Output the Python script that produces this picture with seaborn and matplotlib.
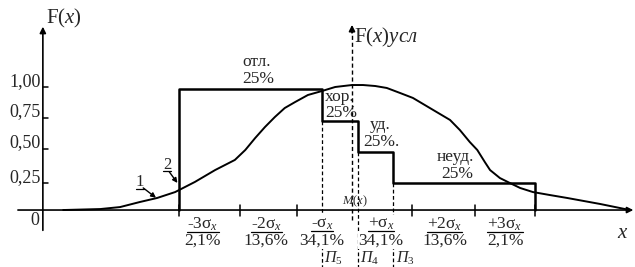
import numpy as np
import pandas as pd
import matplotlib
matplotlib.use('Agg')
import matplotlib.pyplot as plt
import seaborn as sns

sns.set_theme(style='white')
plt.rcParams['font.family'] = ['Liberation Serif', 'DejaVu Serif']
plt.rcParams['mathtext.fontset'] = 'custom'
plt.rcParams['mathtext.rm'] = 'Liberation Serif'
plt.rcParams['mathtext.it'] = 'Liberation Serif:italic'

# ---- data (x in sigma units around M(x), y in f(x) units) ----
curve_x = [-4.98, -4.34, -4.00, -3.66, -3.36, -3.05, -2.71, -2.36, -2.02, -1.84,
           -1.67, -1.50, -1.33, -1.16, -0.98, -0.76, -0.52, -0.29, 0.00, 0.19,
           0.40, 0.60, 0.83, 1.05, 1.40, 1.69, 1.86, 2.03, 2.16, 2.29,
           2.38, 2.55, 2.72, 2.90, 3.12, 3.41, 3.71, 4.28, 4.79]
curve_y = [0.000, 0.008, 0.024, 0.065, 0.098, 0.146, 0.228, 0.325, 0.407, 0.488,
           0.585, 0.675, 0.756, 0.829, 0.878, 0.935, 0.967, 1.000, 1.016, 1.016,
           1.008, 0.992, 0.951, 0.911, 0.813, 0.732, 0.650, 0.553, 0.488, 0.390,
           0.325, 0.260, 0.220, 0.179, 0.146, 0.122, 0.098, 0.049, 0.000]

step_edges = [-2.98, -0.52, 0.10, 0.71, 3.16]
step_levels = [0.98, 0.72, 0.47, 0.22]
grade_names = ['отл.', 'хор.', 'уд.', 'неуд.']
grade_pcts = ['25%', '25%', '25%.', '25%']
grade_pos_x = [-1.64, -0.22, 0.48, 1.78]
grade_pos_y = [1.20, 0.92, 0.69, 0.43]

ytick_pos = [0.22, 0.50, 0.75, 1.00]
ytick_labels = ['0,25', '0,50', '0,75', '1,00']

xtick_pos = [-2.98, -1.93, -0.95, 1.03, 2.12, 3.16]
interval_centers = [-2.57, -1.48, -0.52, 0.50, 1.60, 2.64]
interval_sigmas = ['-3σ$_x$', '-2σ$_x$', '-σ$_x$', '+σ$_x$', '+2σ$_x$', '+3σ$_x$']
interval_pcts = ['2,1%', '13,6%', '34,1%', '34,1%', '13,6%', '2,1%']

limit_names = ['$\\mathit{П_5}$', '$\\mathit{П_4}$', '$\\mathit{П_3}$']

# step outline vertices from edges/levels
step_x, step_y = [step_edges[0]], [0.0]
for i, lv in enumerate(step_levels):
    step_x += [step_edges[i], step_edges[i + 1]]
    step_y += [lv, lv]
step_x.append(step_edges[-1])
step_y.append(0.0)

fig = plt.figure(figsize=(6.35, 2.67), dpi=100)
ax = fig.add_axes([0, 0, 1, 1])
ax.set_xlim(-6.069, 4.879)
ax.set_ylim(-0.463, 1.707)
ax.axis('off')

curve = pd.DataFrame({'x': curve_x, 'y': curve_y})
sns.lineplot(data=curve, x='x', y='y', sort=False, estimator=None,
             color='black', lw=1.4, ax=ax)
steps = pd.DataFrame({'x': step_x, 'y': step_y})
sns.lineplot(data=steps, x='x', y='y', sort=False, estimator=None,
             color='black', lw=1.8, ax=ax)

# ---- axes with arrows ----
yaxis_x = -5.33
arr = dict(arrowstyle='-|>', color='black', lw=1.2, mutation_scale=9,
           shrinkA=0, shrinkB=0)
ax.annotate('', xy=(4.85, 0), xytext=(-5.76, 0), arrowprops=arr)
ax.annotate('', xy=(yaxis_x, 1.49), xytext=(yaxis_x, -0.165), arrowprops=arr)

# dashed conditional axis at M(x)
ax.plot([0, 0], [-0.08, 1.47], ls=(0, (3, 2)), color='black', lw=1.0)
ax.annotate('', xy=(0, 1.505), xytext=(0, 1.44), arrowprops=arr)

# dashed limit lines under step corners
for i, e in enumerate(step_edges[1:-1]):
    ax.plot([e, e], [step_levels[i + 1], -0.463],
            ls=(0, (3, 2)), color='black', lw=0.9)

# y ticks
for p, lab in zip(ytick_pos, ytick_labels):
    ax.plot([yaxis_x, yaxis_x + 0.09], [p, p], color='black', lw=1.1)
    ax.text(yaxis_x - 0.03, p + 0.01, lab, ha='right', va='baseline', fontsize=13)
ax.text(-5.47, -0.085, '0', ha='center', va='center', fontsize=13)

# x ticks
for p in xtick_pos:
    ax.plot([p, p], [-0.045, 0.04], color='black', lw=1.1)

bg = dict(facecolor='white', edgecolor='none', pad=0.5)
texts_to_underline = []
for cx, s, pc in zip(interval_centers, interval_sigmas, interval_pcts):
    t = ax.text(cx, -0.115, s, ha='center', va='center', fontsize=12.5,
                bbox=bg, zorder=5)
    texts_to_underline.append(t)
    ax.text(cx, -0.245, pc, ha='center', va='center', fontsize=12.5,
            bbox=bg, zorder=5)

for e, name in zip(step_edges[1:-1], limit_names):
    ax.text(e + 0.04, -0.39, name, ha='left', va='center', fontsize=11.5)

ax.text(0.05, 0.068, '$M(x)$', ha='center', va='center', fontsize=9)

# grade labels
for gx, gy, n, pc in zip(grade_pos_x, grade_pos_y, grade_names, grade_pcts):
    ax.text(gx, gy, n, ha='center', va='center', fontsize=12.5)
    ax.text(gx + 0.03, gy - 0.135, pc, ha='center', va='center', fontsize=12.5)

# axis titles
ax.text(-5.27, 1.56, 'F$(x)$', ha='left', va='center', fontsize=15)
ax.text(0.03, 1.41, 'F$(x)\\mathit{усл}$', ha='left', va='center', fontsize=15)
ax.text(4.67, -0.19, '$x$', ha='center', va='center', fontsize=15)

# curve labels 1 and 2
small_arr = dict(arrowstyle='-|>', color='black', lw=1.0, mutation_scale=7,
                 shrinkA=0, shrinkB=0)
t1 = ax.text(-3.66, 0.23, '1', ha='center', va='center', fontsize=12)
t2 = ax.text(-3.19, 0.37, '2', ha='center', va='center', fontsize=12)
ax.annotate('', xy=(-3.38, 0.10), xytext=(-3.60, 0.18), arrowprops=small_arr)
ax.annotate('', xy=(-3.01, 0.22), xytext=(-3.15, 0.31), arrowprops=small_arr)
texts_to_underline += [t1, t2]

fig.canvas.draw()
renderer = fig.canvas.get_renderer()
inv = ax.transData.inverted()
for t in texts_to_underline:
    bb = matplotlib.text.Text.get_window_extent(t, renderer)
    (x0, y0), (x1, _) = inv.transform([(bb.x0, bb.y0), (bb.x1, bb.y1)])
    ax.plot([x0, x1], [y0 + 0.01, y0 + 0.01], color='black', lw=0.9, zorder=6)

fig.savefig('out.png', dpi=100)
